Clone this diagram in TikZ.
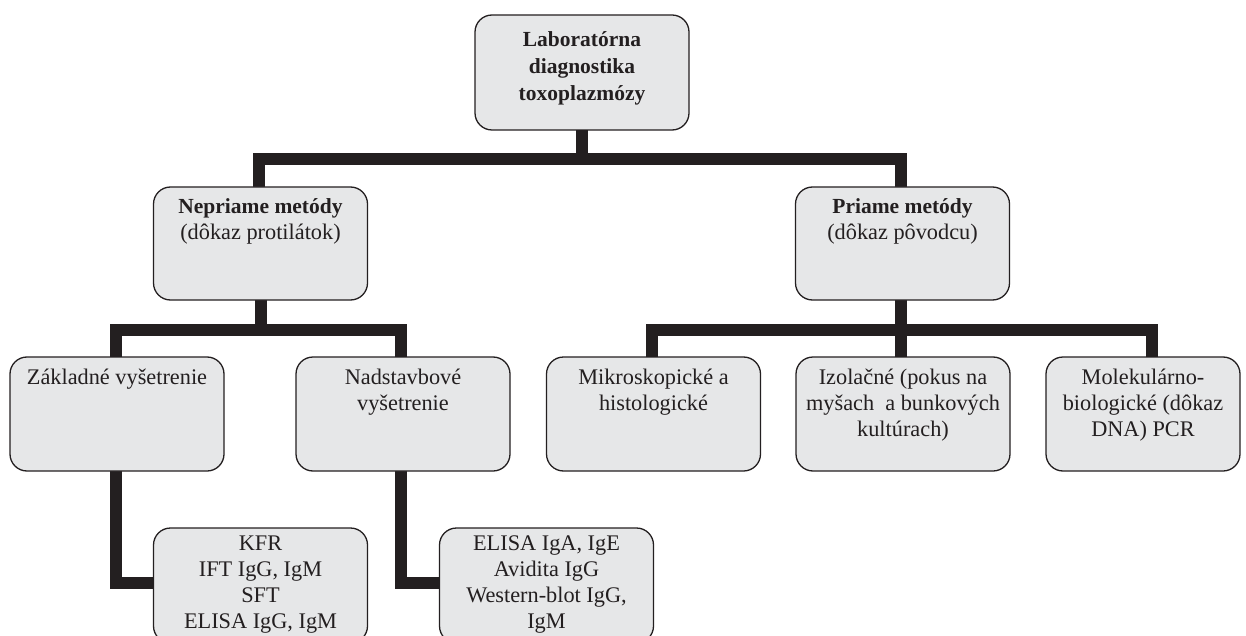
\documentclass[tikz,border=0pt]{standalone}
\usepackage{fontspec}
\setmainfont{Liberation Serif}
\pgfdeclarelayer{background}
\pgfsetlayers{background,main}
\definecolor{ink}{HTML}{231F20}
\definecolor{boxfill}{HTML}{E6E7E8}
\begin{document}
\begin{tikzpicture}[x=1pt,y=-1pt,
  box/.style={draw=ink, line width=1.3pt, fill=boxfill, rounded corners=17pt,
    inner sep=0pt, outer sep=0pt, minimum width=214pt, minimum height=114pt},
  conn/.style={draw=ink, line width=12pt, line join=miter},
  lbl/.style={anchor=north, align=center, inner sep=0pt, text=ink,
    font=\fontsize{22.3}{26}\selectfont}]
\useasboundingbox (0,0) rectangle (1246,636);
\clip (0,0) rectangle (1246,636);
% boxes
\node[box, minimum height=115pt] (top) at (582,72.5) {};
\node[box, minimum height=113pt] (nep) at (260.5,243.5) {};
\node[box, minimum height=113pt] (pri) at (902.5,243.5) {};
\node[box] (zak) at (117,414) {};
\node[box] (nad) at (403,414) {};
\node[box] (mik) at (653.5,414) {};
\node[box] (izo) at (903,414) {};
\node[box, minimum width=194pt] (mol) at (1143,414) {};
\node[box, minimum height=115pt] (kfr) at (260.5,585.5) {};
\node[box, minimum height=115pt] (eli) at (546.5,585.5) {};
% texts
\node[lbl, font=\fontsize{21.5}{27}\selectfont\bfseries] (topt) at (582,27.8)
  {\strut Laboratórna\\diagnostika\\toxoplazmózy};
\node[lbl] (nept) at (260.5,194.8) {\strut{\fontsize{21.5}{26}\selectfont\bfseries Nepriame metódy}\\(dôkaz protilátok)};
\node[lbl] (prit) at (902.5,194.8) {\strut{\fontsize{21.5}{26}\selectfont\bfseries Priame metódy}\\(dôkaz pôvodcu)};
\node[lbl] (zakt) at (117,365.8) {\strut Základné vyšetrenie};
\node[lbl] (nadt) at (403,365.8) {\strut Nadstavbové\\vyšetrenie};
\node[lbl] (mikt) at (653.5,365.8) {\strut Mikroskopické a\\histologické};
\node[lbl] (izot) at (903,365.8) {\strut Izolačné (pokus na\\myšach\ \ a bunkových\\kultúrach)};
\node[lbl] (molt) at (1143,365.8) {\strut Molekulárno-\\biologické (dôkaz\\DNA) PCR};
\node[lbl] (kfrt) at (260.5,531.8) {\strut KFR\\IFT IgG, IgM\\SFT\\ELISA IgG, IgM};
\node[lbl] (elit) at (546.5,531.8) {\strut ELISA IgA, IgE\\Avidita IgG\\Western-blot IgG,\\IgM};
% connectors
\coordinate (b1) at (582,159.5);
\coordinate (b2) at (260,330);
\coordinate (b3) at (901,330);
\begin{pgfonlayer}{background}
\draw[conn] (top.south) -- (top.south |- b1);
\draw[conn] ([xshift=-1.5pt]nep.north) |- (b1) -| ([xshift=-1.5pt]pri.north);
\draw[conn] (nep.south) -- (nep.south |- b2);
\draw[conn] ([xshift=-1pt]zak.north) |- (b2) -| ([xshift=-2pt]nad.north);
\draw[conn] ([xshift=-1.5pt]pri.south) -- ([xshift=-1.5pt]pri.south |- b3);
\draw[conn] ([xshift=-1.5pt]mik.north) |- (b3) -| ([xshift=9pt]mol.north);
\draw[conn] (b3) -- ([xshift=-2pt]izo.north);
\draw[conn] ([xshift=-1pt]zak.south) |- ([yshift=2.5pt]kfr.west);
\draw[conn] ([xshift=-2pt]nad.south) |- ([yshift=2.5pt]eli.west);
\end{pgfonlayer}
\end{tikzpicture}
\end{document}
